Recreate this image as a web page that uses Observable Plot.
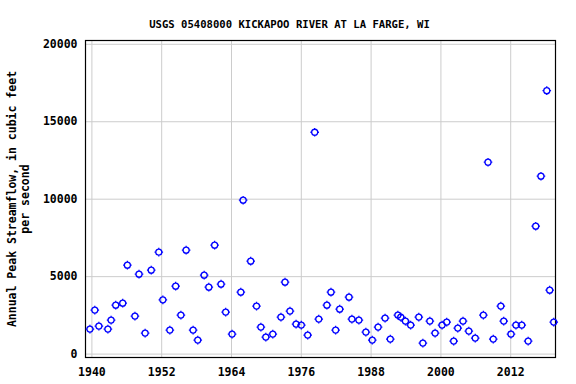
<!DOCTYPE html>
<html>
<head>
<meta charset="utf-8">
<script src="https://cdn.jsdelivr.net/npm/d3@7"></script>
<script src="https://cdn.jsdelivr.net/npm/@observablehq/plot@0.6"></script>
<style>
  html, body { margin: 0; padding: 0; background: #fff; }
</style>
</head>
<body>
<div id="chart"></div>
<script>
const title = "USGS 05408000 KICKAPOO RIVER AT LA FARGE, WI";
const yLabel = "Annual Peak Streamflow, in cubic feet\nper second";
const xTicks = [1940, 1952, 1964, 1976, 1988, 2000, 2012];
const yTicks = [0, 5000, 10000, 15000, 20000];

const years = [1939.66, 1940.5, 1941.2, 1942.75, 1943.3, 1944.1, 1945.3, 1946.1, 1947.4, 1948.1,
  1949.15, 1950.2, 1951.5, 1952.2, 1953.4, 1954.4, 1955.3, 1956.2, 1957.4, 1958.2,
  1959.3, 1960.1, 1961.1, 1962.2, 1963.0, 1964.1, 1965.6, 1966.0, 1967.3, 1968.3,
  1969.05, 1969.9, 1971.1, 1972.5, 1973.2, 1974.05, 1975.1, 1976.0, 1977.1, 1978.3,
  1979.0, 1980.4, 1981.1, 1981.9, 1982.6, 1984.2, 1984.7, 1985.9, 1987.1, 1988.2,
  1989.2, 1990.4, 1991.3, 1992.6, 1993.1, 1993.9, 1994.8, 1996.2, 1996.9, 1998.1,
  1999.0, 2000.2, 2001.0, 2002.2, 2002.9, 2003.8, 2004.8, 2005.9, 2007.3, 2008.1,
  2009.0, 2010.3, 2010.8, 2012.05, 2012.9, 2013.9, 2015.0, 2016.3, 2017.2, 2018.2,
  2018.7, 2019.4];

const peaks = [1613, 2839, 1806, 1613, 2194, 3161, 3290, 5742, 2452, 5161,
  1355, 5419, 6581, 3503, 1548, 4387, 2516, 6710, 1548, 903,
  5097, 4323, 7032, 4516, 2710, 1290, 4000, 9935, 6000, 3097,
  1742, 1097, 1290, 2387, 4645, 2774, 1935, 1871, 1226, 14323,
  2258, 3161, 4000, 1548, 2903, 3677, 2258, 2194, 1419, 903,
  1742, 2323, 968, 2516, 2387, 2129, 1871, 2387, 710, 2129,
  1355, 1871, 2065, 839, 1677, 2129, 1484, 1032, 2516, 12387,
  968, 3097, 2129, 1290, 1871, 1871, 839, 8258, 11484, 17006,
  4129, 2065];

const data = years.map((y, i) => ({year: y, peak: peaks[i]}));

// circle with four small ticks at the cardinal points
const tickedCircle = {
  draw(context, size) {
    const r = Math.sqrt(size / Math.PI);
    const t = 1.3;
    context.moveTo(r, 0);
    context.arc(0, 0, r, 0, 2 * Math.PI);
    context.moveTo(0, -r); context.lineTo(0, -r - t);
    context.moveTo(0, r); context.lineTo(0, r + t);
    context.moveTo(-r, 0); context.lineTo(-r - t, 0);
    context.moveTo(r, 0); context.lineTo(r + t, 0);
  }
};

const font = "'DejaVu Sans Mono', monospace";
const fmt = d => String(d);

const chart = Plot.plot({
  width: 576,
  height: 384,
  marginLeft: 85,
  marginRight: 21,
  marginTop: 40,
  marginBottom: 27,
  style: {fontFamily: font, fontSize: "11.5px", fontWeight: "bold", background: "#fff", color: "#000"},
  x: {domain: [1938.9, 2019.7], ticks: xTicks, tickFormat: fmt},
  y: {domain: [-220, 20245], ticks: yTicks, tickFormat: fmt},
  marks: [
    Plot.gridX(xTicks, {stroke: "#cccccc", strokeOpacity: 1, strokeWidth: 1}),
    Plot.gridY(yTicks, {stroke: "#cccccc", strokeOpacity: 1, strokeWidth: 1}),
    Plot.axisX(xTicks, {tickSize: 0, tickPadding: 10, tickFormat: fmt, label: null, fontWeight: "bold", fontSize: 11.5}),
    Plot.axisY(yTicks, {tickSize: 0, tickPadding: 8, tickFormat: fmt, label: null, fontWeight: "bold", fontSize: 11.5}),
    Plot.frame({stroke: "#000", strokeWidth: 1.2}),
    Plot.dot(data, {x: "year", y: "peak", r: 3, symbol: tickedCircle, stroke: "#0000ff", strokeWidth: 1.3, fill: "none"}),
    Plot.text([title], {frameAnchor: "top", dy: -20, dx: -31, fontSize: 10.6, fontWeight: "bold", fill: "#000"}),
    Plot.text([yLabel], {frameAnchor: "left", dx: -67.5, rotate: -90, lineHeight: 1.2, fontSize: 11.5, fontWeight: "bold", fill: "#000", textAnchor: "middle", lineAnchor: "middle"})
  ]
});

document.getElementById("chart").appendChild(chart);
</script>
</body>
</html>
